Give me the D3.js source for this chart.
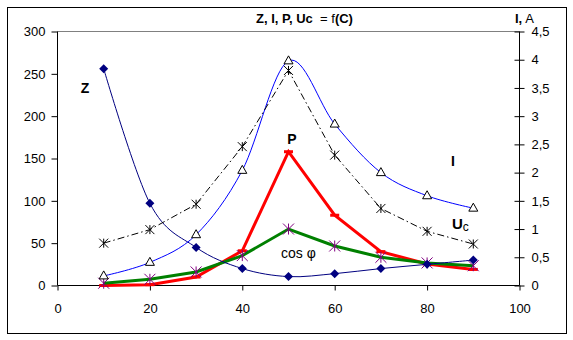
<!DOCTYPE html>
<html><head><meta charset="utf-8">
<script src="https://cdn.jsdelivr.net/npm/d3@7"></script>
<style>
html,body{margin:0;padding:0;background:#fff;}
text{font-family:"Liberation Sans",Arial,sans-serif;}
</style></head>
<body>
<svg id="chart" width="573" height="340"></svg>
<script>
const C = [10, 20, 30, 40, 50, 60, 70, 80, 90];
const Z = [256, 97, 45, 20, 10.5, 14, 20, 25, 30];
const I = [0.17, 0.41, 0.9, 2.04, 3.98, 2.86, 2.0, 1.59, 1.37];
const Uc = [50, 66, 96, 164, 254, 154, 91, 64, 49];
const P = [0, 1, 10, 41, 158, 83, 40, 25.5, 19];
const cosPhi = [0.04, 0.11, 0.24, 0.53, 1.0, 0.70, 0.50, 0.40, 0.35];
const xTicks = [0, 20, 40, 60, 80, 100];
const yLeftTicks = [0, 50, 100, 150, 200, 250, 300];
const yRightTicks = [0, 0.5, 1, 1.5, 2, 2.5, 3, 3.5, 4, 4.5];

const svg = d3.select("#chart");
const L = 57.5, R = 519.5, T = 31.5, B = 285.5;
const x = d3.scaleLinear().domain([0, 100]).range([L, R]);
const yL = d3.scaleLinear().domain([0, 300]).range([B, T]);
const yR = d3.scaleLinear().domain([0, 4.5]).range([B, T]);

// outer border
svg.append("rect").attr("x", 7.5).attr("y", 7.5).attr("width", 559).attr("height", 326)
  .attr("fill", "#fff").attr("stroke", "#000").attr("stroke-width", 1);

// top gray line
svg.append("line").attr("x1", L).attr("x2", R).attr("y1", T).attr("y2", T)
  .attr("stroke", "#808080").attr("stroke-width", 1);

// axes
const fmtR = d => String(d).replace(".", ",");
const gL = svg.append("g").attr("transform", `translate(${L},0)`)
  .call(d3.axisLeft(yL).tickValues(yLeftTicks).tickSize(6).tickPadding(6));
const gR = svg.append("g").attr("transform", `translate(${R},0)`)
  .call(d3.axisRight(yR).tickValues(yRightTicks).tickSize(5).tickPadding(7).tickFormat(fmtR));
gR.selectAll(".tick line").attr("x1", -5).attr("x2", 5);
const gX = svg.append("g").attr("transform", `translate(0,${B})`)
  .call(d3.axisBottom(x).tickValues(xTicks).tickSize(5).tickPadding(13));
[gL, gR, gX].forEach(g => {
  g.select(".domain").attr("stroke", "#000");
  g.selectAll(".tick line").attr("stroke", "#000");
  g.selectAll("text").attr("font-size", 13).attr("fill", "#000")
    .attr("font-family", "'Liberation Sans',Arial,sans-serif");
});
gL.select(".domain").attr("d", `M0,${B}V${T}`);
gR.select(".domain").attr("d", `M0,${B}V${T}`);
gX.select(".domain").attr("d", `M${L},0H${R}`);

const curve = d3.curveCatmullRom.alpha(0);
const lineL = (arr, smooth) => d3.line().x((d, i) => x(C[i])).y(d => yL(d)).curve(smooth ? curve : d3.curveLinear)(arr);
const lineR = (arr, smooth) => d3.line().x((d, i) => x(C[i])).y(d => yR(d)).curve(smooth ? curve : d3.curveLinear)(arr);

// P line (red thick)
svg.append("path").attr("d", lineL(P, false)).attr("fill", "none").attr("stroke", "#ff0000").attr("stroke-width", 3);
svg.selectAll(".pm").data(P).enter().append("rect")
  .attr("x", (d, i) => x(C[i]) - 4.5).attr("y", d => yL(d) - 1.5).attr("width", 9).attr("height", 3)
  .attr("fill", "#ff0000");

// cos phi (green)
svg.append("path").attr("d", lineR(cosPhi, false)).attr("fill", "none").attr("stroke", "#008000").attr("stroke-width", 3);
const star = (g, cx, cy, r, col) => {
  const p = `M${cx - r},${cy - r}L${cx + r},${cy + r}M${cx - r},${cy + r}L${cx + r},${cy - r}M${cx},${cy - r}L${cx},${cy + r}`;
  g.append("path").attr("d", p).attr("stroke", col).attr("stroke-width", 1).attr("fill", "none");
};
const gCos = svg.append("g");
cosPhi.forEach((d, i) => star(gCos, x(C[i]), yR(d), 5.5, "#800080"));

// Z (navy)
svg.append("path").attr("d", lineL(Z, true)).attr("fill", "none").attr("stroke", "#000080").attr("stroke-width", 1);
svg.selectAll(".zm").data(Z).enter().append("path")
  .attr("d", (d, i) => { const cx = x(C[i]), cy = yL(d), r = 4.5; return `M${cx},${cy - r}L${cx + r},${cy}L${cx},${cy + r}L${cx - r},${cy}Z`; })
  .attr("fill", "#000080");

// I (blue)
svg.append("path").attr("d", lineR(I, true)).attr("fill", "none").attr("stroke", "#0000ff").attr("stroke-width", 1);
svg.selectAll(".im").data(I).enter().append("path")
  .attr("d", (d, i) => { const cx = x(C[i]), cy = yR(d); return `M${cx},${cy - 5}L${cx + 4.5},${cy + 3}L${cx - 4.5},${cy + 3}Z`; })
  .attr("fill", "#fff").attr("stroke", "#000").attr("stroke-width", 1);

// Uc (black dash-dot)
svg.append("path").attr("d", lineL(Uc, false)).attr("fill", "none").attr("stroke", "#000").attr("stroke-width", 1)
  .attr("stroke-dasharray", "7,3,1.5,3");
const gU = svg.append("g");
Uc.forEach((d, i) => star(gU, x(C[i]), yL(d), 4.5, "#000"));

// labels
const txt = (s, xx, yy, opts = {}) => svg.append("text").attr("x", xx).attr("y", yy)
  .attr("font-size", opts.size || 13).attr("font-weight", opts.bold ? "bold" : "normal")
  .attr("text-anchor", opts.anchor || "start").attr("fill", "#000").text(s);

const title = svg.append("text").attr("x", 256).attr("y", 23).attr("font-size", 13).attr("fill", "#000");
title.append("tspan").attr("font-weight", "bold").text("Z, I, P, Uc");
title.append("tspan").attr("xml:space", "preserve").text("  = f");
title.append("tspan").attr("font-weight", "bold").text("(C)");

const ia = svg.append("text").attr("x", 515).attr("y", 23).attr("font-size", 13).attr("fill", "#000");
ia.append("tspan").attr("font-weight", "bold").text("I,");
ia.append("tspan").text(" A");

txt("Z", 85, 93, { bold: true, anchor: "middle", size: 14 });
txt("P", 292, 144, { bold: true, anchor: "middle", size: 14 });
txt("I", 453, 166, { bold: true, anchor: "middle", size: 14 });
const uc = svg.append("text").attr("x", 452).attr("y", 229).attr("fill", "#000");
uc.append("tspan").attr("font-weight", "bold").attr("font-size", 15).text("U");
uc.append("tspan").attr("font-size", 12).attr("dy", 2).text("c");
txt("cos φ", 281, 258, { size: 14 });
</script>
</body></html>
